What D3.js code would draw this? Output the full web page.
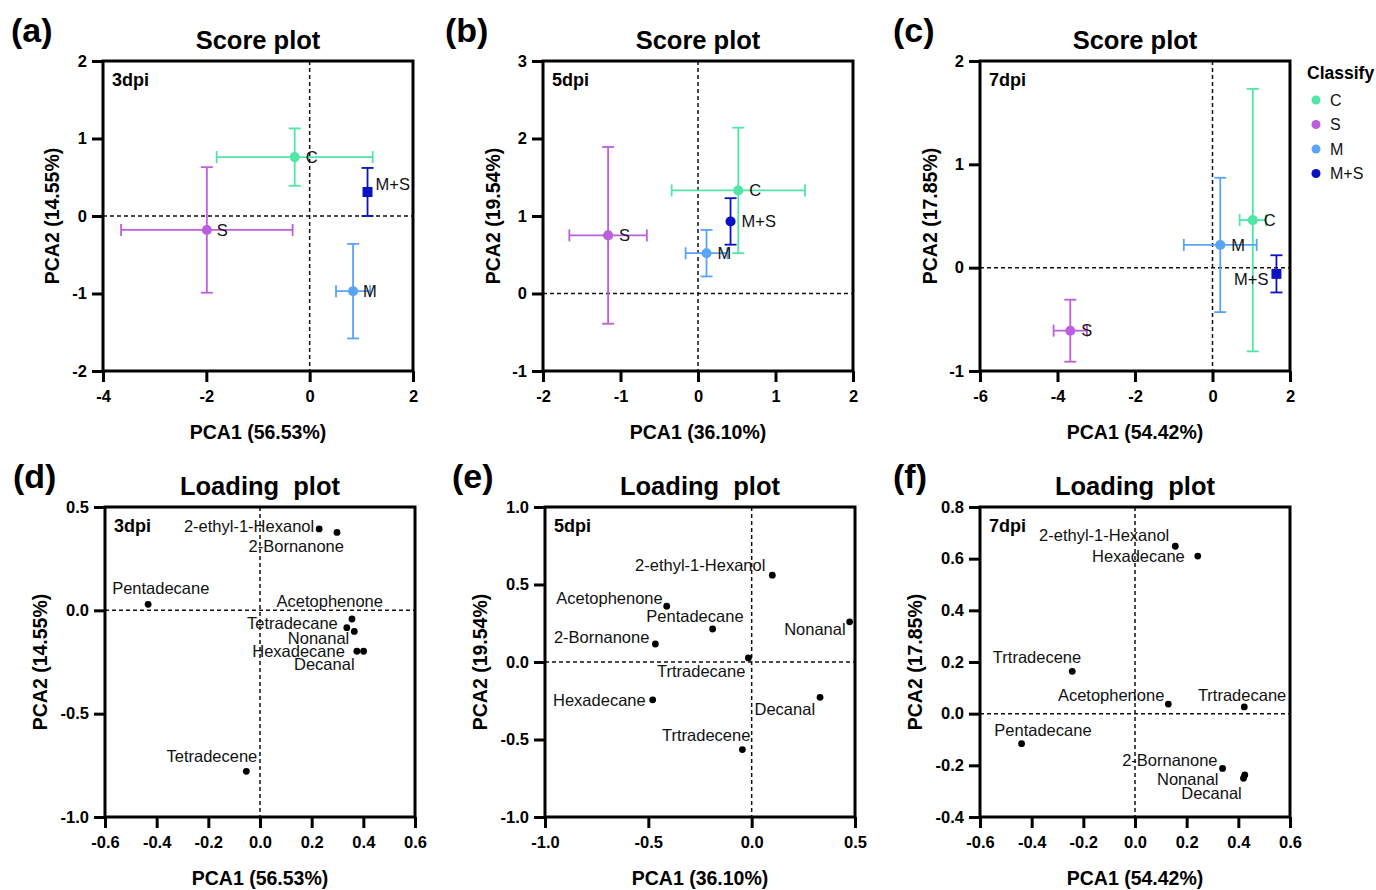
<!DOCTYPE html>
<html>
<head>
<meta charset="utf-8">
<script src="https://cdn.jsdelivr.net/npm/d3@7"></script>
<style>
  body { margin: 0; background: #fff; }
  text { font-family: Arial, "Liberation Sans", sans-serif; }
</style>
</head>
<body>
<div id="chart"></div>
<script>
// groups for the score plots
const groups = ["C", "S", "M", "M+S"];
const groupColors = ["#4fe6a6", "#bb5fdf", "#59a4f7", "#0b12c4"];

// 3dpi scores (mean and error)
const pc1Score3 = [-0.29, -1.99, 0.84, 1.12];
const pc2Score3 = [0.76, -0.18, -0.97, 0.31];
const pc1Err3 = [1.51, 1.66, 0.33, 0];
const pc2Err3 = [0.37, 0.81, 0.61, 0.31];

// 5dpi scores
const pc1Score5 = [0.52, -1.16, 0.11, 0.42];
const pc2Score5 = [1.33, 0.75, 0.52, 0.93];
const pc1Err5 = [0.86, 0.5, 0.27, 0];
const pc2Err5 = [0.81, 1.14, 0.3, 0.3];

// 7dpi scores
const pc1Score7 = [1.04, -3.67, 0.2, 1.65];
const pc2Score7 = [0.46, -0.61, 0.22, -0.06];
const pc1Err7 = [0.34, 0.43, 0.94, 0];
const pc2Err7 = [1.27, 0.3, 0.65, 0.18];

// loadings 3dpi
const compounds3 = ["2-ethyl-1-Hexanol", "2-Bornanone", "Pentadecane", "Acetophenone", "Tetradecane", "Nonanal", "Hexadecane", "Decanal", "Tetradecene"];
const pc1Load3 = [0.229, 0.298, -0.433, 0.356, 0.336, 0.365, 0.375, 0.401, -0.053];
const pc2Load3 = [0.394, 0.377, 0.029, -0.042, -0.084, -0.102, -0.198, -0.198, -0.779];

// loadings 5dpi
const compounds5 = ["2-ethyl-1-Hexanol", "Acetophenone", "Pentadecane", "2-Bornanone", "Nonanal", "Trtradecane", "Hexadecane", "Decanal", "Trtradecene"];
const pc1Load5 = [0.1, -0.411, -0.189, -0.466, 0.474, -0.016, -0.479, 0.331, -0.045];
const pc2Load5 = [0.56, 0.36, 0.213, 0.116, 0.259, 0.026, -0.244, -0.228, -0.565];

// loadings 7dpi
const compounds7 = ["2-ethyl-1-Hexanol", "Hexadecane", "Trtradecene", "Acetophenone", "Trtradecane", "Pentadecane", "2-Bornanone", "Nonanal", "Decanal"];
const pc1Load7 = [0.156, 0.243, -0.243, 0.129, 0.423, -0.439, 0.339, 0.42, 0.425];
const pc2Load7 = [0.648, 0.61, 0.164, 0.037, 0.026, -0.116, -0.212, -0.25, -0.237];

// tick labels
const xTicks3 = [-4, -2, 0, 2];
const yTicks3 = [-2, -1, 0, 1, 2];
const xTicks5 = [-2, -1, 0, 1, 2];
const yTicks5 = [-1, 0, 1, 2, 3];
const xTicks7 = [-6, -4, -2, 0, 2];
const yTicks7 = [-1, 0, 1, 2];
const xTicksL3 = [-0.6, -0.4, -0.2, 0, 0.2, 0.4, 0.6];
const yTicksL3 = [-1, -0.5, 0, 0.5];
const xTicksL5 = [-1, -0.5, 0, 0.5];
const yTicksL5 = [-1, -0.5, 0, 0.5, 1];
const xTicksL7 = [-0.6, -0.4, -0.2, 0, 0.2, 0.4, 0.6];
const yTicksL7 = [-0.4, -0.2, 0, 0.2, 0.4, 0.6, 0.8];

// label placement (dx, dy, anchor) for each point, in pixels
const scoreLabels3 = [[11, 0, "start"], [10, 0, "start"], [10, 0, "start"], [8, -8, "start"]];
const scoreLabels5 = [[11, 0, "start"], [11, 0, "start"], [11, 0, "start"], [11, 0, "start"]];
const scoreLabels7 = [[11, 0, "start"], [11, 0, "start"], [11, 0, "start"], [-8, 5, "end"]];
const loadLabels3 = [[-5, -3, "end"], [7, 14, "end"], [-36, -16, "start"], [31, -18, "end"], [-9, -4, "end"], [-5, 7, "end"], [-12, 0, "end"], [-9, 13, "end"], [11, -15, "end"]];
const loadLabels5 = [[-7, -10, "end"], [-4, -8, "end"], [31, -13, "end"], [-6, -7, "end"], [-4, 7, "end"], [-3, 13, "end"], [-7, 0, "end"], [-5, 12, "end"], [8, -14, "end"]];
const loadLabels7 = [[-6, -11, "end"], [-13, 0, "end"], [9, -14, "end"], [-4, -9, "end"], [42, -12, "end"], [70, -13, "end"], [-5, -8, "end"], [-25, 1, "end"], [-3, 18, "end"]];

const W = 1376;
const H = 890;
const size = 310;

const svg = d3
  .select("#chart")
  .append("svg")
  .attr("width", W)
  .attr("height", H)
  .attr("viewBox", [0, 0, W, H]);

// hyphen instead of unicode minus
function fmt(decimals) {
  const f = d3.format(`.${decimals}f`);
  return (d) => f(d).replace("\u2212", "-");
}

function drawFrame(p) {
  const g = svg.append("g");
  const x = d3.scaleLinear().domain(p.xDomain).range([p.left, p.left + size]);
  const y = d3.scaleLinear().domain(p.yDomain).range([p.top + size, p.top]);

  // panel letter and title
  g.append("text")
    .attr("x", p.letterX)
    .attr("y", p.top - 19)
    .attr("font-size", 34)
    .attr("font-weight", "bold")
    .text(p.letter);

  g.append("text")
    .attr("x", p.left + size / 2)
    .attr("y", p.top - 12)
    .attr("text-anchor", "middle")
    .attr("font-size", 25.5)
    .attr("font-weight", "bold")
    .style("white-space", "pre")
    .text(p.title);

  // zero lines
  g.append("line")
    .attr("x1", x(0)).attr("x2", x(0))
    .attr("y1", p.top).attr("y2", p.top + size)
    .attr("stroke", "#111").attr("stroke-width", 1.5)
    .attr("stroke-dasharray", "4,3");
  g.append("line")
    .attr("x1", p.left).attr("x2", p.left + size)
    .attr("y1", y(0)).attr("y2", y(0))
    .attr("stroke", "#111").attr("stroke-width", 1.5)
    .attr("stroke-dasharray", "4,3");

  // axes
  const xAxis = g.append("g")
    .attr("transform", `translate(0,${p.top + size})`)
    .call(d3.axisBottom(x).tickValues(p.xTicks).tickFormat(fmt(p.dec)).tickSizeInner(11).tickSizeOuter(0).tickPadding(8));
  const yAxis = g.append("g")
    .attr("transform", `translate(${p.left},0)`)
    .call(d3.axisLeft(y).tickValues(p.yTicks).tickFormat(fmt(p.dec)).tickSizeInner(11).tickSizeOuter(0).tickPadding(5));
  [xAxis, yAxis].forEach((a) => {
    a.select(".domain").remove();
    a.selectAll("line").attr("stroke", "#000").attr("stroke-width", 3);
    a.selectAll("text")
      .attr("font-size", 16.5)
      .attr("font-weight", "bold")
      .attr("fill", "#000")
      .attr("font-family", "Arial, 'Liberation Sans', sans-serif");
  });

  // frame
  g.append("rect")
    .attr("x", p.left).attr("y", p.top)
    .attr("width", size).attr("height", size)
    .attr("fill", "none").attr("stroke", "#000").attr("stroke-width", 3);

  // axis titles
  g.append("text")
    .attr("x", p.left + size / 2)
    .attr("y", p.top + size + 68)
    .attr("text-anchor", "middle")
    .attr("font-size", 19.5)
    .attr("font-weight", "bold")
    .text(p.xTitle);
  g.append("text")
    .attr("transform", `translate(${p.left - p.yTitleOff},${p.top + size / 2}) rotate(-90)`)
    .attr("text-anchor", "middle")
    .attr("dy", "0.35em")
    .attr("font-size", 19.5)
    .attr("font-weight", "bold")
    .text(p.yTitle);

  // dpi tag
  g.append("text")
    .attr("x", p.left + 9)
    .attr("y", p.top + 25)
    .attr("font-size", 18)
    .attr("font-weight", "bold")
    .text(p.dpi);

  return { g, x, y };
}

function drawScore(p, xs, ys, xe, ye, labels, squareMS) {
  const { g, x, y } = drawFrame(p);
  const rows = groups.map((name, i) => ({
    name, i, x: xs[i], y: ys[i], xe: xe[i], ye: ye[i], color: groupColors[i],
  }));
  const cap = 6;

  const bars = g.append("g").selectAll("g").data(rows).enter().append("g")
    .attr("stroke", (d) => d.color).attr("stroke-width", 1.8).attr("fill", "none");
  // horizontal error bars
  bars.filter((d) => d.xe > 0).each(function (d) {
    const s = d3.select(this);
    s.append("line").attr("x1", x(d.x - d.xe)).attr("x2", x(d.x + d.xe)).attr("y1", y(d.y)).attr("y2", y(d.y));
    s.append("line").attr("x1", x(d.x - d.xe)).attr("x2", x(d.x - d.xe)).attr("y1", y(d.y) - cap).attr("y2", y(d.y) + cap);
    s.append("line").attr("x1", x(d.x + d.xe)).attr("x2", x(d.x + d.xe)).attr("y1", y(d.y) - cap).attr("y2", y(d.y) + cap);
  });
  // vertical error bars
  bars.filter((d) => d.ye > 0).each(function (d) {
    const s = d3.select(this);
    s.append("line").attr("x1", x(d.x)).attr("x2", x(d.x)).attr("y1", y(d.y - d.ye)).attr("y2", y(d.y + d.ye));
    s.append("line").attr("x1", x(d.x) - cap).attr("x2", x(d.x) + cap).attr("y1", y(d.y - d.ye)).attr("y2", y(d.y - d.ye));
    s.append("line").attr("x1", x(d.x) - cap).attr("x2", x(d.x) + cap).attr("y1", y(d.y + d.ye)).attr("y2", y(d.y + d.ye));
  });

  // markers
  g.append("g").selectAll("path").data(rows).enter().append("path")
    .attr("transform", (d) => `translate(${x(d.x)},${y(d.y)})`)
    .attr("d", (d) =>
      d3.symbol()
        .type(squareMS && d.name === "M+S" ? d3.symbolSquare : d3.symbolCircle)
        .size(squareMS && d.name === "M+S" ? 100 : 80)()
    )
    .attr("fill", (d) => d.color);

  // labels
  g.append("g").selectAll("text").data(rows).enter().append("text")
    .attr("x", (d) => x(d.x) + labels[d.i][0])
    .attr("y", (d) => y(d.y) + labels[d.i][1])
    .attr("dy", "0.35em")
    .attr("text-anchor", (d) => labels[d.i][2])
    .attr("font-size", 16.5)
    .attr("fill", "#111")
    .text((d) => d.name);
}

function drawLoading(p, names, xs, ys, labels) {
  const { g, x, y } = drawFrame(p);
  const rows = names.map((name, i) => ({ name, i, x: xs[i], y: ys[i] }));

  g.append("g").selectAll("circle").data(rows).enter().append("circle")
    .attr("cx", (d) => x(d.x))
    .attr("cy", (d) => y(d.y))
    .attr("r", 3.4)
    .attr("fill", "#000");

  g.append("g").selectAll("text").data(rows).enter().append("text")
    .attr("x", (d) => x(d.x) + labels[d.i][0])
    .attr("y", (d) => y(d.y) + labels[d.i][1])
    .attr("dy", "0.35em")
    .attr("text-anchor", (d) => labels[d.i][2])
    .attr("font-size", 16.5)
    .attr("fill", "#111")
    .text((d) => d.name);
}

// score plots
drawScore(
  { letter: "(a)", letterX: 11, left: 103, top: 61, xDomain: [-4, 2], yDomain: [-2, 2], xTicks: xTicks3, yTicks: yTicks3, dec: 0,
    title: "Score plot", xTitle: "PCA1 (56.53%)", yTitle: "PCA2 (14.55%)", yTitleOff: 51, dpi: "3dpi" },
  pc1Score3, pc2Score3, pc1Err3, pc2Err3, scoreLabels3, true
);
drawScore(
  { letter: "(b)", letterX: 445, left: 543, top: 61, xDomain: [-2, 2], yDomain: [-1, 3], xTicks: xTicks5, yTicks: yTicks5, dec: 0,
    title: "Score plot", xTitle: "PCA1 (36.10%)", yTitle: "PCA2 (19.54%)", yTitleOff: 50, dpi: "5dpi" },
  pc1Score5, pc2Score5, pc1Err5, pc2Err5, scoreLabels5, false
);
drawScore(
  { letter: "(c)", letterX: 893, left: 980, top: 61, xDomain: [-6, 2], yDomain: [-1, 2], xTicks: xTicks7, yTicks: yTicks7, dec: 0,
    title: "Score plot", xTitle: "PCA1 (54.42%)", yTitle: "PCA2 (17.85%)", yTitleOff: 50, dpi: "7dpi" },
  pc1Score7, pc2Score7, pc1Err7, pc2Err7, scoreLabels7, true
);

// loading plots
drawLoading(
  { letter: "(d)", letterX: 13, left: 105, top: 507, xDomain: [-0.6, 0.6], yDomain: [-1, 0.5], xTicks: xTicksL3, yTicks: yTicksL3, dec: 1,
    title: "Loading  plot", xTitle: "PCA1 (56.53%)", yTitle: "PCA2 (14.55%)", yTitleOff: 65, dpi: "3dpi" },
  compounds3, pc1Load3, pc2Load3, loadLabels3
);
drawLoading(
  { letter: "(e)", letterX: 452, left: 545, top: 507, xDomain: [-1, 0.5], yDomain: [-1, 1], xTicks: xTicksL5, yTicks: yTicksL5, dec: 1,
    title: "Loading  plot", xTitle: "PCA1 (36.10%)", yTitle: "PCA2 (19.54%)", yTitleOff: 65, dpi: "5dpi" },
  compounds5, pc1Load5, pc2Load5, loadLabels5
);
drawLoading(
  { letter: "(f)", letterX: 893, left: 980, top: 507, xDomain: [-0.6, 0.6], yDomain: [-0.4, 0.8], xTicks: xTicksL7, yTicks: yTicksL7, dec: 1,
    title: "Loading  plot", xTitle: "PCA1 (54.42%)", yTitle: "PCA2 (17.85%)", yTitleOff: 65, dpi: "7dpi" },
  compounds7, pc1Load7, pc2Load7, loadLabels7
);

// legend
const legend = svg.append("g").attr("transform", "translate(1307,0)");
legend.append("text")
  .attr("x", 0).attr("y", 79)
  .attr("font-size", 17.5).attr("font-weight", "bold")
  .text("Classify");
const items = legend.selectAll("g.item").data(groups).enter().append("g")
  .attr("class", "item")
  .attr("transform", (d, i) => `translate(0,${100 + i * 24.5})`);
items.append("circle").attr("cx", 9).attr("cy", 0).attr("r", 4.5).attr("fill", (d, i) => groupColors[i]);
items.append("text").attr("x", 23).attr("dy", "0.35em").attr("font-size", 16).attr("fill", "#111").text((d) => d);
</script>
</body>
</html>
